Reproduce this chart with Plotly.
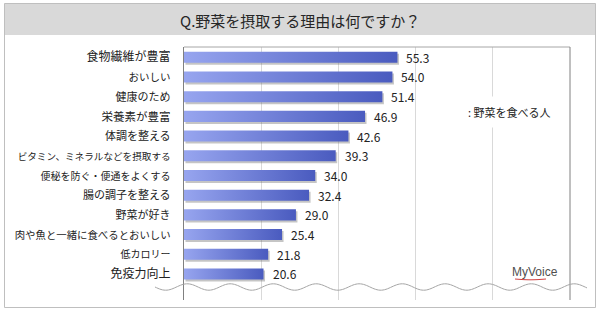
import plotly.graph_objects as go
import math

categories = ["食物繊維が豊富", "おいしい", "健康のため", "栄養素が豊富", "体調を整える",
              "ビタミン、ミネラルなどを摂取する", "便秘を防ぐ・便通をよくする", "腸の調子を整える",
              "野菜が好き", "肉や魚と一緒に食べるとおいしい", "低カロリー", "免疫力向上"]
values = [55.3, 54.0, 51.4, 46.9, 42.6, 39.3, 34.0, 32.4, 29.0, 25.4, 21.8, 20.6]
series_name = ": 野菜を食べる人"
title_text = "Q.野菜を摂取する理由は何ですか？"

# per-label font sizes (to mimic the proportional kana of the original font)
label_sizes = [12, 10.5, 11, 11.5, 11, 9.6, 10, 11, 11, 10.4, 10, 12]

W, H = 600, 312
L, R, T, B = 184, 570, 47, 300
FONT = "Noto Sans CJK JP, Meiryo, sans-serif"

def pxx(x):
    return (x - L) / (R - L)

def pxy(y):
    return (B - y) / (B - T)

fig = go.Figure()

h = 0.28
unit_x = (R - L) / 100.0
unit_y = (B - T) / 12.84
sx = 1.5 / unit_x
sy = 2.0 / unit_y

for i, v in enumerate(values):
    fig.add_trace(go.Scatter(
        x=[sx, v + sx, v + sx, sx, sx],
        y=[i - h + sy, i - h + sy, i + h + sy, i + h + sy, i - h + sy],
        fill="toself", mode="lines", line=dict(width=0),
        fillcolor="rgba(110,110,110,0.4)", hoverinfo="skip", showlegend=False))
    fig.add_trace(go.Scatter(
        x=[0, v, v, 0, 0],
        y=[i - h, i - h, i + h, i + h, i - h],
        fill="toself", mode="lines", line=dict(width=0),
        fillgradient=dict(type="horizontal",
                          colorscale=[[0, "#97a5ef"], [1, "#4a5bbf"]]),
        hoverinfo="skip", showlegend=False))

annotations = []
for i, v in enumerate(values):
    annotations.append(dict(x=v, y=i, xref="x", yref="y", text=f"{v:.1f}",
                            showarrow=False, xanchor="left", xshift=7,
                            font=dict(family=FONT, size=12, color="#222222")))

ticktext = [f'<span style="font-size:{s}px">{c}</span>' for c, s in zip(categories, label_sizes)]

annotations.append(dict(x=pxx(509), y=pxy(112), xref="paper", yref="paper",
                        text=series_name, showarrow=False, xanchor="center",
                        yanchor="middle", bgcolor="white", borderpad=7,
                        font=dict(family=FONT, size=11, color="#222222")))
annotations.append(dict(x=pxx(300), y=pxy(21), xref="paper", yref="paper",
                        text=title_text, showarrow=False, xanchor="center",
                        yanchor="middle",
                        font=dict(family=FONT, size=15, color="#262626")))
annotations.append(dict(x=pxx(535), y=pxy(272), xref="paper", yref="paper",
                        text="MyVoice", showarrow=False, xanchor="center",
                        yanchor="middle",
                        font=dict(family="Liberation Sans Narrow, Liberation Sans, sans-serif",
                                  size=12, color="#505050")))

shapes = []
shapes.append(dict(type="rect", xref="paper", yref="paper", layer="below",
                   x0=pxx(4.5), x1=pxx(595.5), y0=pxy(3.5), y1=pxy(35),
                   fillcolor="#d9d9d9", line=dict(width=0)))
shapes.append(dict(type="rect", xref="paper", yref="paper",
                   x0=pxx(4.5), x1=pxx(595.5), y0=pxy(3.5), y1=pxy(307.5),
                   line=dict(color="#bfbfbf", width=1)))
shapes.append(dict(type="line", xref="paper", yref="paper",
                   x0=0, x1=1, y0=1, y1=1, line=dict(color="#a6a6a6", width=1)))
shapes.append(dict(type="line", xref="paper", yref="paper",
                   x0=1, x1=1, y0=0, y1=1, line=dict(color="#808080", width=1)))
pts = []
x = 155
while x <= 587:
    yy = 287 + 3.2 * math.sin((x - 155) * 2 * math.pi / 43.0)
    pts.append((pxx(x), pxy(yy)))
    x += 1.5
path = "M " + " L ".join(f"{a:.5f},{b:.5f}" for a, b in pts)
shapes.append(dict(type="path", xref="paper", yref="paper", path=path,
                   line=dict(color="#a6a6a6", width=1)))
swoosh = []
x = 515
while x <= 546:
    yy = 279 + 0.8 * math.sin((x - 515) * math.pi / 31.0)
    swoosh.append((pxx(x), pxy(yy)))
    x += 1
shapes.append(dict(type="path", xref="paper", yref="paper",
                   path="M " + " L ".join(f"{a:.5f},{b:.5f}" for a, b in swoosh),
                   line=dict(color="#d04040", width=1)))

fig.update_layout(
    width=W, height=H,
    margin=dict(l=L, r=W - R, t=T, b=H - B, pad=0, autoexpand=False),
    paper_bgcolor="white", plot_bgcolor="white",
    showlegend=False,
    annotations=annotations, shapes=shapes,
    xaxis=dict(range=[0, 100], dtick=20, showgrid=True, gridcolor="#d9d9d9",
               gridwidth=1, showticklabels=False, zeroline=False, showline=False,
               fixedrange=True, automargin=False),
    yaxis=dict(range=[12.32, -0.52], tickvals=list(range(len(categories))),
               ticktext=ticktext, showgrid=False, zeroline=False,
               showline=True, linecolor="#808080", linewidth=1, ticks="",
               ticklabelstandoff=10, automargin=False,
               tickfont=dict(family=FONT, size=12, color="#222222"),
               fixedrange=True),
)

fig.write_html("out.html")
